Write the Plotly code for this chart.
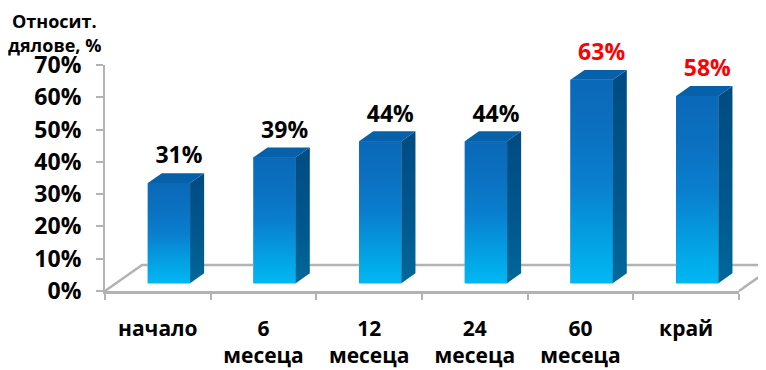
import plotly.graph_objects as go

# ---------------- data ----------------
categories = ["начало", "6<br>месеца", "12<br>месеца", "24<br>месеца", "60<br>месеца", "край"]
values = [31, 39, 44, 44, 63, 58]
value_labels = ["31%", "39%", "44%", "44%", "63%", "58%"]
label_colors = ["#000000", "#000000", "#000000", "#000000", "#FF0000", "#FF0000"]
y_tick_values = [0, 10, 20, 30, 40, 50, 60, 70]
y_tick_labels = ["0%", "10%", "20%", "30%", "40%", "50%", "60%", "70%"]
title_lines = ["Относит.", "дялове, %"]

# ---------------- layout geometry (screen pixels) ----------------
SW, SH = 766, 370          # browser window
OFF = 8                    # default page margin of the html body
W, H = SW - OFF, SH - OFF  # figure size so it fits the window exactly
PL, PR, PT, PB = 105, 739, 65, 291          # front plane box of the value/category axes
Y_MAX = 70
n = len(categories)
px_x = (PR - PL) / n                       # pixels per category
px_y = (PB - PT) / Y_MAX                   # pixels per percent


def fx(px):
    return (px - OFF) / W


def fy(py):
    return 1 - (py - OFF) / H


# 3D depth of the floor (in data units)
DX = 37 / px_x
DY = 26 / px_y
F0, FD = 0.30, 0.38                        # bar front position / bar depth (fraction of depth)
BW = 0.40                                  # bar width (category units)
ox, oy = F0 * DX, F0 * DY
bx, by = FD * DX, FD * DY

FONT = "Open Sans"
GRAY = "#B3B3B3"

front_scale = [[0.0, "#00B8F3"], [0.18, "#03A4E5"], [0.5, "#0A7ECE"], [0.75, "#0B70C0"], [1.0, "#0A69B8"]]
side_scale = [[0.0, "#00689A"], [0.4, "#00588E"], [1.0, "#004B82"]]
top_color = "#0761A8"

fig = go.Figure()

# real bar trace for the front faces (value axis / category axis)
fig.add_trace(go.Bar(
    x=categories, y=values, base=[oy] * n, width=[BW] * n, offset=[-BW / 2 + ox] * n,
    marker=dict(color="#0A6FBE", line=dict(width=0)),
    xaxis="x", yaxis="y", showlegend=False,
    hovertemplate="%{x}: %{y}%<extra></extra>",
))

# floor outline (drawn on a full-figure overlay axis pair with identical scale)
xl, xr = -0.5, n - 0.5
fig.add_trace(go.Scatter(
    x=[xl, xl + DX, xr + DX, xr], y=[0, DY, DY, 0],
    mode="lines", line=dict(color=GRAY, width=2.5),
    xaxis="x2", yaxis="y2", hoverinfo="skip", showlegend=False,
))

# 3D bar faces
for i, v in enumerate(values):
    x0 = i - BW / 2 + ox
    x1 = i + BW / 2 + ox
    # front face
    fig.add_trace(go.Scatter(
        x=[x0, x1, x1, x0, x0], y=[oy, oy, oy + v, oy + v, oy],
        mode="lines", fill="toself", line=dict(width=0),
        fillgradient=dict(type="vertical", colorscale=front_scale),
        xaxis="x2", yaxis="y2", hoverinfo="skip", showlegend=False,
    ))
    # side face
    fig.add_trace(go.Scatter(
        x=[x1, x1 + bx, x1 + bx, x1, x1], y=[oy, oy + by, oy + by + v, oy + v, oy],
        mode="lines", fill="toself", line=dict(width=0),
        fillgradient=dict(type="vertical", colorscale=side_scale),
        xaxis="x2", yaxis="y2", hoverinfo="skip", showlegend=False,
    ))
    # top face
    fig.add_trace(go.Scatter(
        x=[x0, x1, x1 + bx, x0 + bx, x0], y=[oy + v, oy + v, oy + v + by, oy + v + by, oy + v],
        mode="lines", fill="toself", line=dict(width=0), fillcolor=top_color,
        xaxis="x2", yaxis="y2", hoverinfo="skip", showlegend=False,
    ))

# value labels
fig.add_trace(go.Scatter(
    x=[i + 0.2 for i in range(n)],
    y=[v + oy + by + 15.5 / px_y for v in values],
    mode="text", text=value_labels, textposition="middle center",
    textfont=dict(family=FONT, size=23, color=label_colors, weight="bold"),
    xaxis="x2", yaxis="y2", hoverinfo="skip", showlegend=False, cliponaxis=False,
))

# title (two lines)
for k, line in enumerate(title_lines):
    fig.add_annotation(
        text=line, xref="paper", yref="paper", x=fx(54), y=fy(21 + 24 * k),
        xanchor="center", yanchor="middle", showarrow=False,
        font=dict(family=FONT, size=18, color="#000000", weight="bold"),
    )

x2_range = [-0.5 - (PL - OFF) / px_x, n - 0.5 + (SW - PR) / px_x]
y2_range = [-(SH - PB) / px_y, Y_MAX + (PT - OFF) / px_y]

fig.update_layout(
    width=W, height=H, autosize=False,
    margin=dict(l=0, r=0, t=0, b=0, pad=0),
    paper_bgcolor="white", plot_bgcolor="rgba(0,0,0,0)",
    showlegend=False, barmode="overlay",
    xaxis=dict(
        domain=[fx(PL), fx(PR)], anchor="y", type="category", automargin=False,
        categoryorder="array", categoryarray=categories, range=[-0.5, n - 0.5],
        tickson="boundaries", ticks="outside", ticklen=6, tickwidth=1.5, tickcolor=GRAY,
        showline=True, linecolor=GRAY, linewidth=2.5, showgrid=False, zeroline=False,
        tickfont=dict(family=FONT, size=21, color="#000000", weight="bold"),
        ticklabelstandoff=17, fixedrange=True,
    ),
    yaxis=dict(
        domain=[fy(PB), fy(PT)], anchor="x", range=[0, Y_MAX], automargin=False,
        tickmode="array", tickvals=y_tick_values, ticktext=y_tick_labels,
        ticks="outside", ticklen=7, tickwidth=1.5, tickcolor=GRAY,
        showline=True, linecolor=GRAY, linewidth=2, showgrid=False, zeroline=False,
        tickfont=dict(family=FONT, size=23, color="#000000", weight="bold"),
        ticklabelstandoff=10, fixedrange=True,
    ),
    xaxis2=dict(domain=[0, 1], anchor="y2", range=x2_range, visible=False,
                fixedrange=True, automargin=False),
    yaxis2=dict(domain=[0, 1], anchor="x2", range=y2_range, visible=False,
                fixedrange=True, automargin=False),
)

fig.write_html("out.html")
